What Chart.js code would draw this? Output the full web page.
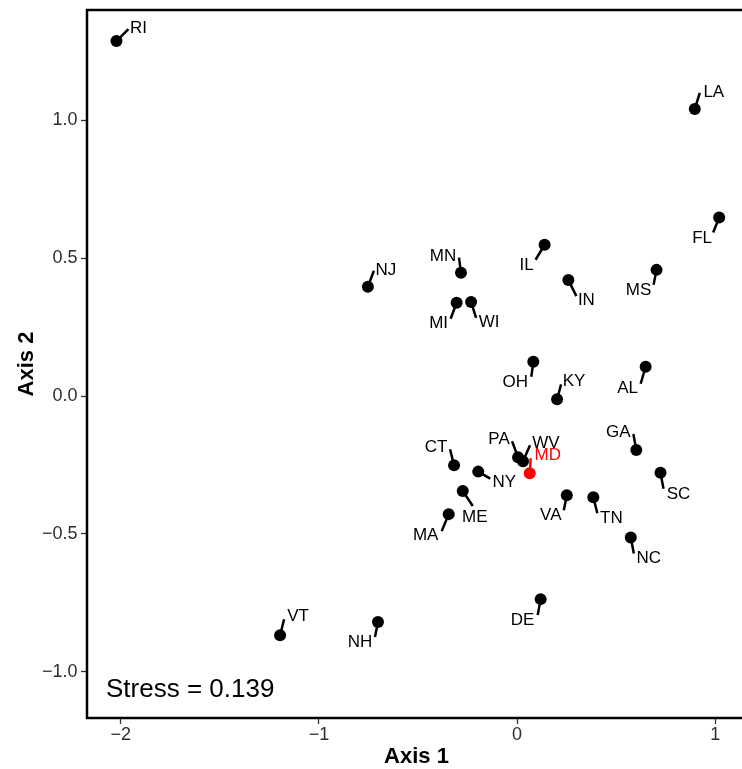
<!DOCTYPE html>
<html>
<head>
<meta charset="utf-8">
<script src="https://cdn.jsdelivr.net/npm/chart.js@4/dist/chart.umd.min.js"></script>
<style>
  html, body { margin: 0; padding: 0; background: #ffffff; overflow: hidden; }
  #wrap { width: 742px; height: 769px; overflow: hidden; position: relative; }
  canvas { display: block; }
</style>
</head>
<body>
<div id="wrap"><canvas id="nmds" width="752" height="769" style="width:752px;height:769px"></canvas></div>
<script>
// NMDS ordination of states: coordinates on the first two axes
const states = ['RI','LA','FL','NJ','MN','MI','WI','IL','IN','MS','OH','KY','AL','GA',
                'SC','CT','NY','PA','WV','MD','ME','MA','VA','TN','NC','DE','VT','NH'];
const axis1 = [-2.022, 0.897, 1.020, -0.753, -0.283, -0.305, -0.232, 0.139, 0.259, 0.704,
               0.082, 0.202, 0.649, 0.602, 0.724, -0.318, -0.196, 0.005, 0.030, 0.064,
               -0.274, -0.345, 0.251, 0.385, 0.574, 0.119, -1.196, -0.702];
const axis2 = [1.286, 1.040, 0.647, 0.396, 0.447, 0.338, 0.341, 0.548, 0.420, 0.457,
               0.124, -0.012, 0.106, -0.196, -0.278, -0.251, -0.274, -0.222, -0.236, -0.280,
               -0.344, -0.428, -0.360, -0.367, -0.513, -0.736, -0.867, -0.819];
const highlighted = ['MD'];
const xTickValues = [-2, -1, 0, 1];
const yTickValues = [-1.0, -0.5, 0.0, 0.5, 1.0];
const stressValue = '0.139';

// Repelled label placement in pixels relative to each point:
// [segment end dx, segment end dy, text centre dx, text centre dy]
const labelLayout = {
  RI: [12, -12, 22, -14], LA: [5, -16, 19, -18], FL: [-6, 15, -17, 19],
  NJ: [6, -16, 18, -18],  MN: [-2, -15, -18, -18], MI: [-6, 16, -18, 19],
  WI: [5, 16, 18, 19],    IL: [-9, 15, -18, 19],  IN: [8, 16, 18, 19],
  MS: [-3, 15, -18, 19],  OH: [-2, 15, -18, 19],  KY: [4, -15, 17, -19],
  AL: [-5, 17, -18, 20],  GA: [-3, -16, -18, -19], SC: [3, 16, 18, 20],
  CT: [-4, -16, -18, -19], NY: [12, 7, 26, 9],    PA: [-6, -16, -19, -19],
  WV: [7, -16, 23, -19],  MD: [1, -15, 18, -19],  ME: [10, 15, 12, 25],
  MA: [-7, 17, -23, 20],  VA: [-3, 15, -16, 19],  TN: [4, 16, 18, 20],
  NC: [3, 16, 18, 19],    DE: [-3, 16, -18, 20],  VT: [4, -16, 18, -20],
  NH: [-3, 15, -18, 19]
};

const FONT = '"Liberation Sans", Arial, Helvetica, sans-serif';
const RED = '#ff0000';
const colorFor = s => highlighted.includes(s) ? RED : '#000000';

function fmt(v, digits) {
  const s = Math.abs(v).toFixed(digits);
  return v < 0 ? '\u2212' + s : s;
}

// Panel border drawn around the whole plotting area
const framePlugin = {
  id: 'frame',
  afterDraw(chart) {
    const { ctx, chartArea: a } = chart;
    ctx.save();
    ctx.strokeStyle = '#000';
    ctx.lineWidth = 2.5;
    ctx.strokeRect(a.left, a.top, a.right - a.left, a.bottom - a.top);
    ctx.restore();
  }
};

// State labels with short leader segments
const labelPlugin = {
  id: 'stateLabels',
  afterDatasetsDraw(chart) {
    const { ctx } = chart;
    const meta = chart.getDatasetMeta(0);
    const size = 17;
    ctx.save();
    ctx.font = size + 'px ' + FONT;
    ctx.textAlign = 'center';
    ctx.textBaseline = 'alphabetic';
    ctx.lineWidth = 2.5;
    ctx.lineCap = 'butt';
    meta.data.forEach((pt, i) => {
      const s = states[i];
      const [sx, sy, tx, ty] = labelLayout[s];
      const c = colorFor(s);
      ctx.strokeStyle = c;
      ctx.fillStyle = c;
      ctx.beginPath();
      ctx.moveTo(pt.x, pt.y);
      ctx.lineTo(pt.x + sx, pt.y + sy);
      ctx.stroke();
      ctx.fillText(s, pt.x + tx, pt.y + ty + size * 0.358);
    });
    ctx.restore();
  }
};

// Stress annotation in the lower-left corner
const stressPlugin = {
  id: 'stress',
  afterDraw(chart) {
    const { ctx, chartArea: a } = chart;
    ctx.save();
    ctx.font = '26px ' + FONT;
    ctx.fillStyle = '#000';
    ctx.textAlign = 'left';
    ctx.textBaseline = 'alphabetic';
    ctx.fillText('Stress = ' + stressValue, a.left + 19, a.bottom - 21.5);
    ctx.restore();
  }
};

const points = states.map((s, i) => ({ x: axis1[i], y: axis2[i] }));

new Chart(document.getElementById('nmds'), {
  type: 'scatter',
  data: {
    datasets: [{
      data: points,
      pointRadius: 6,
      pointHoverRadius: 6,
      pointBackgroundColor: states.map(colorFor),
      pointBorderColor: states.map(colorFor),
      pointBorderWidth: 0
    }]
  },
  options: {
    responsive: false,
    animation: false,
    events: [],
    layout: { padding: { top: 10, right: 2, left: 0, bottom: 0 } },
    plugins: { legend: { display: false }, tooltip: { enabled: false } },
    scales: {
      x: {
        type: 'linear',
        min: -2.1706,
        max: 1.1555,
        afterBuildTicks: sc => { sc.ticks = xTickValues.map(v => ({ value: v })); },
        afterFit: sc => { sc.height = 51; sc.paddingLeft = 0; sc.paddingRight = 0; },
        border: { display: false },
        grid: { drawOnChartArea: false, tickLength: 6, tickColor: '#333', tickWidth: 1.3 },
        ticks: {
          autoSkip: false, maxRotation: 0, padding: 2.5, color: '#2e2e2e',
          font: { family: FONT, size: 18, lineHeight: 1 },
          callback: v => fmt(v, 0)
        },
        title: {
          display: true, text: 'Axis 1', color: '#000',
          font: { family: FONT, size: 22, weight: 'bold', lineHeight: 1.1 },
          padding: { top: 0, bottom: 0 }
        }
      },
      y: {
        type: 'linear',
        min: -1.1667,
        max: 1.3986,
        afterBuildTicks: sc => { sc.ticks = yTickValues.map(v => ({ value: v })); },
        afterFit: sc => { sc.width = 87; sc.paddingTop = 0; sc.paddingBottom = 0; },
        border: { display: false },
        grid: { drawOnChartArea: false, tickLength: 6, tickColor: '#333', tickWidth: 1.3 },
        ticks: {
          autoSkip: false, padding: 3.5, color: '#2e2e2e',
          font: { family: FONT, size: 18 },
          callback: v => fmt(v, 1)
        },
        title: {
          display: true, text: 'Axis 2', color: '#000',
          font: { family: FONT, size: 22, weight: 'bold', lineHeight: 1.1 },
          padding: { top: 14.4, bottom: 0 }
        }
      }
    }
  },
  plugins: [framePlugin, labelPlugin, stressPlugin]
});
</script>
</body>
</html>
